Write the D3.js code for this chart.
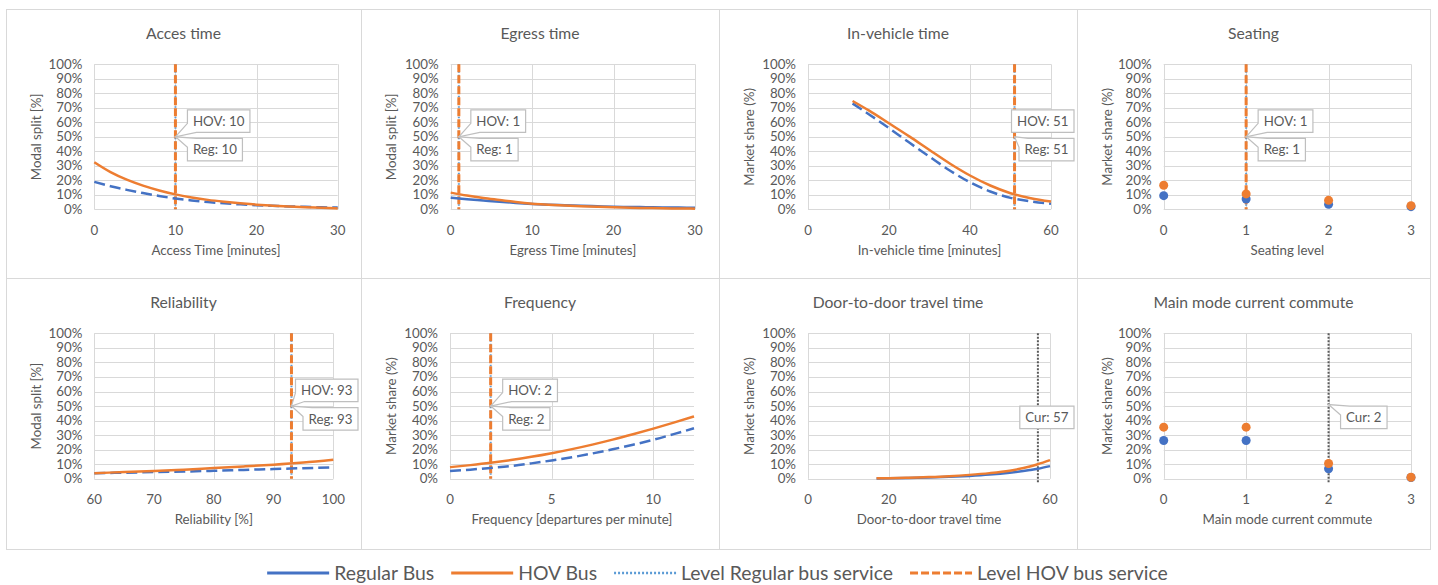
<!DOCTYPE html>
<html><head><meta charset="utf-8">
<script src="https://cdn.jsdelivr.net/npm/d3@7"></script>
<style>body{margin:0;background:#fff;} svg{display:block;font-family:Lato,"Open Sans",sans-serif;}</style>
</head><body><svg id="chart" width="1438" height="585"></svg>
<script>
// ---------- DATA ----------
const yTicks = [0,10,20,30,40,50,60,70,80,90,100];
const ticks0to30 = [0,10,20,30];
const ticks0to60 = [0,20,40,60];
const ticks0to3 = [0,1,2,3];
const ticks60to100 = [60,70,80,90,100];
const ticks0to12 = [0,5,10];

const accessX = [0,2,4,6,8,10,12,14,16,18,20,22,24,26,28,30];
const accessHOV = [32.4,25.6,20.4,16.3,13.0,10.3,8.2,6.5,5.2,4.1,3.2,2.5,1.9,1.4,1.0,0.6];
const accessReg = [18.9,15.9,13.4,11.2,9.2,7.4,6.1,5.0,4.1,3.4,2.8,2.4,2.0,1.7,1.4,1.2];

const egressX = [0,2,4,6,8,10,12,14,16,18,20,22,24,26,28,30];
const egressHOV = [11.5,9.5,7.8,6.4,5.0,3.9,3.2,2.6,2.1,1.7,1.35,1.1,0.9,0.7,0.55,0.45];
const egressReg = [8.0,7.0,6.1,5.2,4.4,3.7,3.2,2.8,2.4,2.1,1.8,1.6,1.45,1.3,1.2,1.1];

const ivtX = [11,15,20,25,30,35,40,45,50,55,60];
const ivtHOV = [74.7,68.2,59.3,50.3,40.9,31.6,23.3,16.4,11.1,7.6,5.3];
const ivtReg = [73.0,65.6,56.0,46.0,36.3,26.8,18.6,12.3,7.9,5.4,3.8];

const seatX = [0,1,2,3];
const seatHOV = [16.6,10.6,6.2,2.5];
const seatReg = [9.4,7.1,3.4,1.8];

const relX = [60,65,70,75,80,85,90,95,100];
const relHOV = [3.9,4.6,5.3,6.3,7.4,8.5,9.7,11.2,13.1];
const relReg = [3.9,4.2,4.6,5.0,5.5,6.1,6.7,7.3,7.9];

const freqX = [0,1,2,3,4,5,6,7,8,9,10,11,12];
const freqHOV = [8.0,9.4,11.0,12.9,15.1,17.6,20.4,23.5,26.9,30.6,34.5,38.6,42.9];
const freqReg = [5.3,6.3,7.5,8.8,10.6,12.6,14.8,17.4,20.3,23.4,26.8,30.7,34.7];

const d2dX = [17,20,25,30,35,40,45,50,55,57,60];
const d2dHOV = [0.3,0.45,0.8,1.2,1.8,2.7,3.9,5.6,8.4,10.0,12.8];
const d2dReg = [0.2,0.3,0.55,0.9,1.35,2.0,2.9,4.2,6.0,6.9,8.7];

const modeX = [0,1,2,3];
const modeHOV = [35.5,35.5,10.5,1.1];
const modeReg = [26.3,26.3,6.9,0.9];

const levelValues = [10,1,51,1,93,2];   // HOV & Regular service levels
const currentValues = [57,2];           // current situation

const legendLabels = ["Regular Bus","HOV Bus","Level Regular bus service","Level HOV bus service"];

// ---------- PANELS ----------
const panels = [
  {title:"Acces time", xLabel:"Access Time [minutes]", yLabel:"Modal split [%]", dom:[0,30], ticks:ticks0to30, x:accessX, hov:accessHOV, reg:accessReg, type:"line", regDash:true, level:levelValues[0], col:0,row:0, pl:94.3, pr:337.7},
  {title:"Egress time", xLabel:"Egress Time [minutes]", yLabel:"Modal split [%]", dom:[0,30], ticks:ticks0to30, x:egressX, hov:egressHOV, reg:egressReg, type:"line", regDash:false, level:levelValues[1], col:1,row:0, pl:450.7, pr:695},
  {title:"In-vehicle time", xLabel:"In-vehicle time [minutes]", yLabel:"Market share (%)", dom:[0,60], ticks:ticks0to60, x:ivtX, hov:ivtHOV, reg:ivtReg, type:"line", regDash:true, level:levelValues[2], col:2,row:0, pl:808, pr:1051},
  {title:"Seating", xLabel:"Seating level", yLabel:"Market share (%)", dom:[0,3], ticks:ticks0to3, x:seatX, hov:seatHOV, reg:seatReg, type:"scatter", level:levelValues[3], col:3,row:0, pl:1163.7, pr:1411},
  {title:"Reliability", xLabel:"Reliability  [%]", yLabel:"Modal split [%]", dom:[60,100], ticks:ticks60to100, x:relX, hov:relHOV, reg:relReg, type:"line", regDash:true, level:levelValues[4], col:0,row:1, pl:94.3, pr:333.3},
  {title:"Frequency", xLabel:"Frequency [departures per minute]", yLabel:"Market share (%)", dom:[0,12], ticks:ticks0to12, x:freqX, hov:freqHOV, reg:freqReg, type:"line", regDash:true, level:levelValues[5], col:1,row:1, pl:450, pr:694},
  {title:"Door-to-door travel time", xLabel:"Door-to-door travel time", yLabel:"Market share (%)", dom:[0,60], ticks:ticks0to60, x:d2dX, hov:d2dHOV, reg:d2dReg, type:"line", regDash:false, current:currentValues[0], col:2,row:1, pl:808, pr:1050},
  {title:"Main mode current commute", xLabel:"Main mode current commute", yLabel:"Market share (%)", dom:[0,3], ticks:ticks0to3, x:modeX, hov:modeHOV, reg:modeReg, type:"scatter", current:currentValues[1], col:3,row:1, pl:1163.7, pr:1411}
];

const colEdges = [6,361,719,1077,1430];
const rowEdges = [9,278,549];
const rowPlot = [[64.3,209.3],[333.3,478.8]];

const BLUE = "#4472c4", ORANGE = "#ed7d31", LBLUE = "#5b9bd5", GRID = "#d9d9d9", TXT = "#595959";

const svg = d3.select("#chart");

// panel frames
panels.forEach(p => {
  svg.append("rect")
    .attr("x", colEdges[p.col]+0.5).attr("y", rowEdges[p.row]+0.5)
    .attr("width", colEdges[p.col+1]-colEdges[p.col]).attr("height", rowEdges[p.row+1]-rowEdges[p.row])
    .attr("fill","none").attr("stroke",GRID).attr("stroke-width",1);
});

function callout(g, tx, ty, label, above, panelRight) {
  const t = g.append("text").attr("font-size",13.3).attr("fill",TXT).text(label);
  const tw = t.node().getComputedTextLength();
  const w = tw + 11, h = 22.5;
  const left = Math.min(tx + 12, panelRight - 3 - w);
  const top = above ? ty - 27 : ty + 1.5;
  let d;
  const wedge = tx < left - 2;
  if (above) {
    d = wedge ? `M${left},${top}H${left+w}V${top+h}H${left+9}L${tx},${ty}L${left},${top+h-9}Z`
              : `M${left},${top}H${left+w}V${top+h}H${left}Z`;
  } else {
    d = wedge ? `M${left},${top+9}L${tx},${ty}L${left+9},${top}H${left+w}V${top+h}H${left}Z`
              : `M${left},${top}H${left+w}V${top+h}H${left}Z`;
  }
  g.insert("path", () => t.node()).attr("d", d).attr("fill","#fff").attr("stroke","#bfbfbf").attr("stroke-width",1.2);
  t.attr("x", left + 5.5).attr("y", top + h/2 + 4.7);
}

panels.forEach(p => {
  const [pt, pb] = rowPlot[p.row];
  const x = d3.scaleLinear().domain(p.dom).range([p.pl, p.pr]);
  const y = d3.scaleLinear().domain([0,100]).range([pb, pt]);
  const g = svg.append("g");
  const panelL = colEdges[p.col], panelR = colEdges[p.col+1], panelT = rowEdges[p.row];

  // title
  g.append("text").attr("x",(panelL+panelR)/2).attr("y",panelT+29.5).attr("text-anchor","middle")
    .attr("font-size",15.7).attr("fill",TXT).text(p.title);

  // horizontal grid
  g.append("g").selectAll("line").data(yTicks).join("line")
    .attr("x1",p.pl).attr("x2",p.pr).attr("y1",d=>Math.round(y(d))+0.5).attr("y2",d=>Math.round(y(d))+0.5)
    .attr("stroke",GRID).attr("stroke-width",1);
  // vertical grid
  g.append("g").selectAll("line").data(p.ticks).join("line")
    .attr("x1",d=>Math.round(x(d))+0.5).attr("x2",d=>Math.round(x(d))+0.5).attr("y1",pt).attr("y2",pb)
    .attr("stroke",GRID).attr("stroke-width",1);

  // y tick labels
  g.append("g").selectAll("text").data(yTicks).join("text")
    .attr("x",p.pl-12).attr("y",d=>y(d)+4.5).attr("text-anchor","end")
    .attr("font-size",13.3).attr("fill",TXT).text(d=>d+"%");
  // x tick labels
  g.append("g").selectAll("text").data(p.ticks).join("text")
    .attr("x",d=>x(d)).attr("y",pb+25.5).attr("text-anchor","middle")
    .attr("font-size",13.3).attr("fill",TXT).text(d=>d);

  // axis titles
  g.append("text").attr("x",(p.pl+p.pr)/2).attr("y",pb+45.5).attr("text-anchor","middle")
    .attr("font-size",13.3).attr("fill",TXT).text(p.xLabel);
  g.append("text").attr("transform",`translate(${panelL+34.5},${(pt+pb)/2}) rotate(-90)`)
    .attr("text-anchor","middle").attr("font-size",13.3).attr("fill",TXT).text(p.yLabel);

  // level lines
  if (p.level !== undefined) {
    const lx = x(p.level);
    g.append("line").attr("x1",lx).attr("x2",lx).attr("y1",pt).attr("y2",pb)
      .attr("stroke",LBLUE).attr("stroke-width",2).attr("stroke-dasharray","1.5,2");
    g.append("line").attr("x1",lx).attr("x2",lx).attr("y1",pt).attr("y2",pb)
      .attr("stroke",ORANGE).attr("stroke-width",3).attr("stroke-dasharray","8,3");
  }
  if (p.current !== undefined) {
    const cx = x(p.current);
    g.append("line").attr("x1",cx).attr("x2",cx).attr("y1",pt).attr("y2",pb+5)
      .attr("stroke","#595959").attr("stroke-width",2).attr("stroke-dasharray","2,1.5");
  }

  // series
  if (p.type === "line") {
    const line = d3.line().x(d=>x(d[0])).y(d=>y(d[1])).curve(d3.curveMonotoneX);
    g.append("path").attr("d", line(d3.zip(p.x, p.reg))).attr("fill","none")
      .attr("stroke",BLUE).attr("stroke-width",2.5)
      .attr("stroke-dasharray", p.regDash ? "11,5" : null);
    g.append("path").attr("d", line(d3.zip(p.x, p.hov))).attr("fill","none")
      .attr("stroke",ORANGE).attr("stroke-width",2.5);
  } else {
    g.append("g").selectAll("circle").data(d3.zip(p.x,p.reg)).join("circle")
      .attr("cx",d=>x(d[0])).attr("cy",d=>y(d[1])).attr("r",4.5).attr("fill",BLUE);
    g.append("g").selectAll("circle").data(d3.zip(p.x,p.hov)).join("circle")
      .attr("cx",d=>x(d[0])).attr("cy",d=>y(d[1])).attr("r",4.5).attr("fill",ORANGE);
  }

  // callouts
  if (p.level !== undefined) {
    const tx = x(p.level), ty = y(50);
    callout(g, tx, ty, "HOV: " + p.level, true, panelR);
    callout(g, tx, ty, "Reg: " + p.level, false, panelR);
  }
  if (p.current !== undefined) {
    const tx = x(p.current), ty = y(50);
    callout(g, tx, ty - 1.5, "Cur: " + p.current, false, panelR);
  }
});

// ---------- LEGEND ----------
const leg = svg.append("g");
const legStyles = [
  {stroke:BLUE, w:3, dash:null},
  {stroke:ORANGE, w:3, dash:null},
  {stroke:LBLUE, w:2.5, dash:"2,2"},
  {stroke:ORANGE, w:3, dash:"8,3"}
];
const LY = 573, SW = 62, GAP1 = 5, GAP2 = 17;
const items = legendLabels.map((lab,i) => {
  const gi = leg.append("g");
  gi.append("line").attr("x1",0).attr("x2",SW).attr("y1",LY).attr("y2",LY)
    .attr("stroke",legStyles[i].stroke).attr("stroke-width",legStyles[i].w).attr("stroke-dasharray",legStyles[i].dash);
  const t = gi.append("text").attr("x",SW+GAP1).attr("y",LY+6.6).attr("font-size",19.4).attr("fill",TXT).text(lab);
  return {g:gi, w: SW + GAP1 + t.node().getComputedTextLength()};
});
const total = d3.sum(items, d=>d.w) + GAP2*(items.length-1);
let cx = 717.5 - total/2;
items.forEach(it => { it.g.attr("transform",`translate(${cx},0)`); cx += it.w + GAP2; });
</script>
</body></html>
